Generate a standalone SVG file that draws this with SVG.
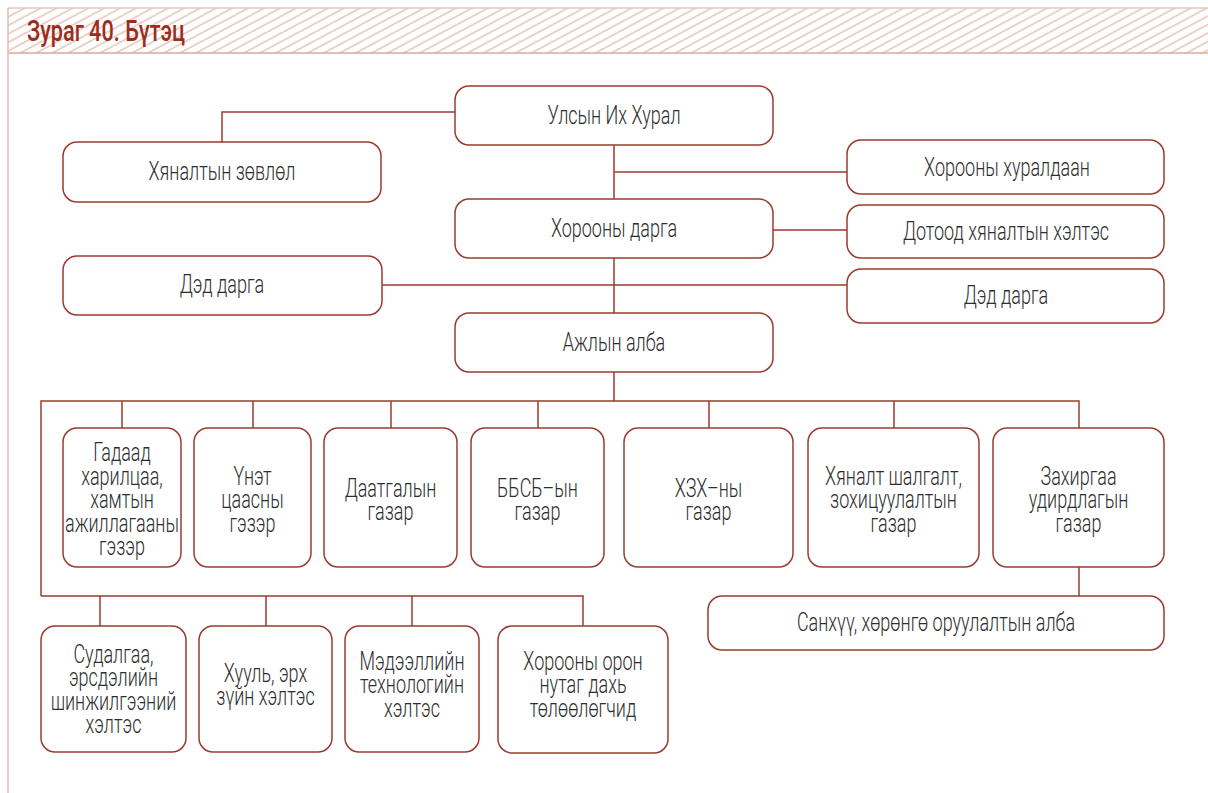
<svg xmlns="http://www.w3.org/2000/svg" width="1208" height="793" viewBox="0 0 1208 793">
<defs>
<pattern id="hatch" patternUnits="userSpaceOnUse" width="10" height="7.5" patternTransform="rotate(-28)">
<line x1="0" y1="3.75" x2="10" y2="3.75" stroke="#d9a691" stroke-width="1"/>
</pattern>
</defs>
<style>
.box{fill:#fff;stroke:#9a3b30;stroke-width:1.5}
.lbl{font-family:Roboto,"Liberation Sans",sans-serif;font-size:25px;font-weight:300;fill:#2e2e2e;text-anchor:middle}
.con{fill:none;stroke:#9a3b30;stroke-width:1.5}
</style>
<rect width="1208" height="793" fill="#fff"/>
<g id="header">
<rect x="8" y="8" width="1200" height="45" fill="url(#hatch)"/>
<line x1="8" y1="8" x2="1208" y2="8" stroke="#e3c8bd" stroke-width="1.5"/>
<line x1="8" y1="53" x2="1208" y2="53" stroke="#d8ab98" stroke-width="1.5"/>
<line x1="8" y1="8" x2="8" y2="793" stroke="#e2bcae" stroke-width="1.5"/>
<text x="27" y="41" font-family="Roboto,'Liberation Sans',sans-serif" font-size="29" font-weight="500" fill="#9b2d20" textLength="158" lengthAdjust="spacingAndGlyphs">Зураг 40. Бүтэц</text>
</g>
<g id="connectors">
<path class="con" d="M222,142 V112 H455"/>
<path class="con" d="M614,145 V199"/>
<path class="con" d="M614,172 H847"/>
<path class="con" d="M773,230 H847"/>
<path class="con" d="M382,285 H847"/>
<path class="con" d="M614,258 V313"/>
<path class="con" d="M614,372 V401"/>
<path class="con" d="M41,596 V401 H1079 V428"/>
<path class="con" d="M122,401 V428 M253,401 V428 M391,401 V428 M538,401 V428 M709,401 V428 M894,401 V428"/>
<path class="con" d="M1079,567 V596"/>
<path class="con" d="M41,596 H583 V626 M100,596 V626 M266,596 V626 M412,596 V626"/>
</g>
<g id="n-uih">
<rect class="box" x="455" y="86" width="318" height="59" rx="14"/>
<g transform="translate(614 0) scale(0.72 1)"><text class="lbl" x="0" y="124">Улсын Их Хурал</text></g>
</g>
<g id="n-zovlol">
<rect class="box" x="63" y="142" width="318" height="60" rx="14"/>
<g transform="translate(222 0) scale(0.72 1)"><text class="lbl" x="0" y="180">Хяналтын зөвлөл</text></g>
</g>
<g id="n-huraldaan">
<rect class="box" x="847" y="140" width="317" height="54" rx="14"/>
<g transform="translate(1007 0) scale(0.72 1)"><text class="lbl" x="0" y="176">Хорооны хуралдаан</text></g>
</g>
<g id="n-darga">
<rect class="box" x="455" y="199" width="318" height="59" rx="14"/>
<g transform="translate(614 0) scale(0.72 1)"><text class="lbl" x="0" y="237">Хорооны дарга</text></g>
</g>
<g id="n-dotood">
<rect class="box" x="847" y="205" width="317" height="53" rx="14"/>
<g transform="translate(1006 0) scale(0.72 1)"><text class="lbl" x="0" y="240">Дотоод хяналтын хэлтэс</text></g>
</g>
<g id="n-ded1">
<rect class="box" x="63" y="256" width="319" height="59" rx="14"/>
<g transform="translate(222 0) scale(0.72 1)"><text class="lbl" x="0" y="293">Дэд дарга</text></g>
</g>
<g id="n-ded2">
<rect class="box" x="847" y="269" width="317" height="54" rx="14"/>
<g transform="translate(1006 0) scale(0.72 1)"><text class="lbl" x="0" y="304">Дэд дарга</text></g>
</g>
<g id="n-alba">
<rect class="box" x="455" y="313" width="318" height="59" rx="14"/>
<g transform="translate(614 0) scale(0.72 1)"><text class="lbl" x="0" y="351">Ажлын алба</text></g>
</g>
<g id="n-gadaad">
<rect class="box" x="63" y="428" width="118" height="139" rx="14"/>
<g transform="translate(122 0) scale(0.72 1)"><text class="lbl" y="461.5"><tspan x="0">Гадаад</tspan><tspan x="0" dy="23.5">харилцаа,</tspan><tspan x="0" dy="23.5">хамтын</tspan><tspan x="0" dy="23.5">ажиллагааны</tspan><tspan x="0" dy="23.5">гэзэр</tspan></text></g>
</g>
<g id="n-unet">
<rect class="box" x="194" y="428" width="117" height="139" rx="14"/>
<g transform="translate(252.5 0) scale(0.72 1)"><text class="lbl" y="485"><tspan x="0">Үнэт</tspan><tspan x="0" dy="23.5">цаасны</tspan><tspan x="0" dy="23.5">гэзэр</tspan></text></g>
</g>
<g id="n-daatgal">
<rect class="box" x="324" y="428" width="133" height="139" rx="14"/>
<g transform="translate(390.5 0) scale(0.72 1)"><text class="lbl" y="497"><tspan x="0">Даатгалын</tspan><tspan x="0" dy="23.5">газар</tspan></text></g>
</g>
<g id="n-bbsb">
<rect class="box" x="471" y="428" width="133" height="139" rx="14"/>
<g transform="translate(537.5 0) scale(0.72 1)"><text class="lbl" y="497"><tspan x="0">ББСБ–ын</tspan><tspan x="0" dy="23.5">газар</tspan></text></g>
</g>
<g id="n-hzh">
<rect class="box" x="624" y="428" width="169" height="139" rx="14"/>
<g transform="translate(708.5 0) scale(0.72 1)"><text class="lbl" y="497"><tspan x="0">ХЗХ–ны</tspan><tspan x="0" dy="23.5">газар</tspan></text></g>
</g>
<g id="n-hyanalt">
<rect class="box" x="808" y="428" width="171" height="139" rx="14"/>
<g transform="translate(893.5 0) scale(0.72 1)"><text class="lbl" y="485"><tspan x="0">Хяналт шалгалт,</tspan><tspan x="0" dy="23.5">зохицуулалтын</tspan><tspan x="0" dy="23.5">газар</tspan></text></g>
</g>
<g id="n-zahirgaa">
<rect class="box" x="993" y="428" width="171" height="139" rx="14"/>
<g transform="translate(1078.5 0) scale(0.72 1)"><text class="lbl" y="485"><tspan x="0">Захиргаа</tspan><tspan x="0" dy="23.5">удирдлагын</tspan><tspan x="0" dy="23.5">газар</tspan></text></g>
</g>
<g id="n-sanhuu">
<rect class="box" x="708" y="596" width="456" height="54" rx="14"/>
<g transform="translate(936 0) scale(0.72 1)"><text class="lbl" x="0" y="631">Санхүү, хөрөнгө оруулалтын алба</text></g>
</g>
<g id="n-sudalgaa">
<rect class="box" x="41" y="626" width="145" height="126" rx="14"/>
<g transform="translate(113.5 0) scale(0.72 1)"><text class="lbl" y="663"><tspan x="0">Судалгаа,</tspan><tspan x="0" dy="23.5">эрсдэлийн</tspan><tspan x="0" dy="23.5">шинжилгээний</tspan><tspan x="0" dy="23.5">хэлтэс</tspan></text></g>
</g>
<g id="n-huul">
<rect class="box" x="199" y="626" width="133" height="126" rx="14"/>
<g transform="translate(265.5 0) scale(0.72 1)"><text class="lbl" y="682"><tspan x="0">Хууль, эрх</tspan><tspan x="0" dy="23.5">зүйн хэлтэс</tspan></text></g>
</g>
<g id="n-medeelel">
<rect class="box" x="345" y="626" width="134" height="126" rx="14"/>
<g transform="translate(412 0) scale(0.72 1)"><text class="lbl" y="670"><tspan x="0">Мэдээллийн</tspan><tspan x="0" dy="23.5">технологийн</tspan><tspan x="0" dy="23.5">хэлтэс</tspan></text></g>
</g>
<g id="n-oron">
<rect class="box" x="498" y="626" width="170" height="127" rx="14"/>
<g transform="translate(583 0) scale(0.72 1)"><text class="lbl" y="670"><tspan x="0">Хорооны орон</tspan><tspan x="0" dy="23.5">нутаг дахь</tspan><tspan x="0" dy="23.5">төлөөлөгчид</tspan></text></g>
</g>
</svg>
